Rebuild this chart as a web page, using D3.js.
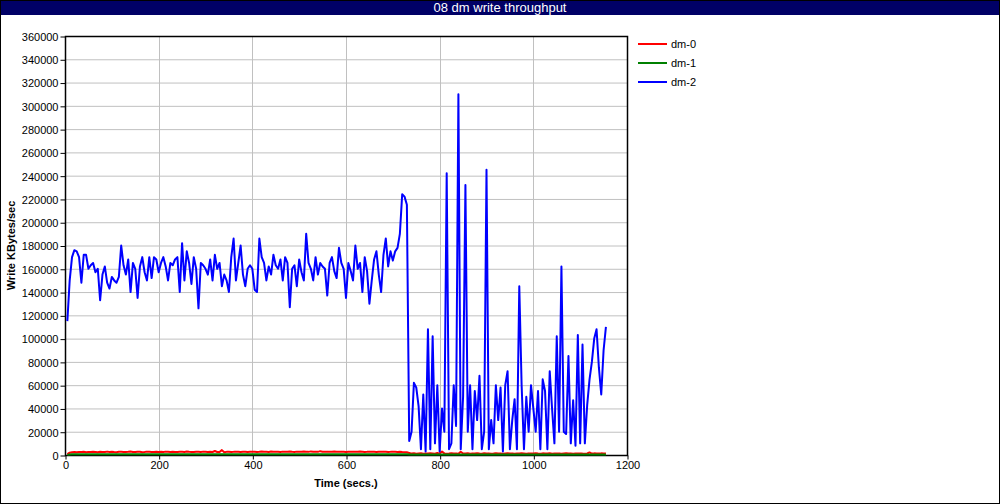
<!DOCTYPE html>
<html><head><meta charset="utf-8">
<script src="https://cdn.jsdelivr.net/npm/d3@7"></script>
<style>body{margin:0;background:#fff}svg{display:block}</style>
</head><body>
<svg id="chart" width="1000" height="504"></svg>
<script>
const title = "08 dm write throughput";
const seriesNames = ["dm-0", "dm-1", "dm-2"];
const seriesColors = ["#ff0000", "#008000", "#0000ff"];
const xTicks = [0, 200, 400, 600, 800, 1000, 1200];
const yTicks = [0,20000,40000,60000,80000,100000,120000,140000,160000,180000,200000,220000,240000,260000,280000,300000,320000,340000,360000];

const dm0 = [
800,2000,2400,2500,2300,2600,2500,2700,2400,2600,
2500,2800,2600,2400,2700,2600,2500,2900,2600,2700,
2500,2400,2800,2700,2600,2500,2700,3000,2600,2500,
2800,2700,2400,2600,2900,2700,2500,2600,2800,2600,
2700,2500,2900,2800,2600,2700,2500,2600,2800,2700,
2600,3000,2700,2500,2600,2800,2700,2600,2900,2700,
2500,2800,2600,3400,2600,2500,4200,2300,2700,2800,
2600,2700,2900,2800,2600,2700,2800,2500,2700,2900,
2800,2600,2700,3000,2800,2700,2600,3000,2800,2700,
2800,2600,2900,2700,2800,3000,2700,2600,2900,2800,
2700,3000,2800,2700,3100,2800,2900,2700,3300,2800,
2700,2900,2800,2700,3000,2800,2700,2900,2800,2600,
2800,2700,2900,2800,2700,3000,2800,2600,2700,2900,
2800,2700,2600,2800,2700,2900,2800,2600,2700,2900,
2800,2600,2700,2500,2400,2300,
1800,1200,1500,1000,1300,1600,1100,1400,1200,1500,
1300,1100,1800,1200,3000,1400,1100,1300,1600,1200,
1400,1100,2800,1300,1200,1500,1100,1400,1200,1600,
1300,1100,1500,1200,1400,1100,1300,1600,1200,1400,
1100,1300,1500,1200,1400,1100,1300,1200,1500,1300,
1100,1400,1200,1300,1600,1200,1100,1400,1300,1200,
1500,1100,1300,1200,1400,1100,1300,1500,1200,1400,
1100,1300,1200,1400,1200,1100,1300,2200,1200,1400,
1300,1200,1400,1300,1200];

const dm1 = [
100,500,600,700,700,650,700,750,700,700,
700,650,700,700,750,700,700,700,650,700,
700,750,700,700,700,650,700,700,750,700,
700,700,650,700,700,750,700,700,700,650,
700,700,750,700,700,700,650,700,700,750,
700,700,700,650,700,700,750,700,700,700,
650,700,700,750,700,700,700,650,700,700,
750,700,700,700,650,700,700,750,700,700,
700,650,700,700,750,700,700,700,650,700,
700,750,700,700,700,650,700,700,750,700,
700,700,650,700,700,750,700,700,700,650,
700,700,750,700,700,700,650,700,700,750,
700,700,700,650,700,700,750,700,700,700,
650,700,700,750,700,700,700,650,700,700,
750,700,700,700,650,600,
400,500,450,500,500,450,500,500,450,500,
500,450,500,500,450,500,500,450,500,500,
450,500,500,450,500,500,450,500,500,450,
500,500,450,500,500,450,500,500,450,500,
500,450,500,500,450,500,500,450,500,500,
450,500,500,450,500,500,450,500,500,450,
500,500,450,500,500,450,500,500,450,500,
500,450,500,500,450,500,500,450,500,500,
450,500,500,450,500];

const dm2 = [
115000,150000,170000,176000,175000,170000,148000,172000,172000,160000,
163000,165000,157000,160000,133000,155000,162000,148000,143000,153000,
150000,148000,153000,180000,163000,155000,168000,140000,165000,160000,
135000,162000,170000,157000,150000,170000,152000,170000,168000,157000,
165000,170000,162000,150000,165000,163000,168000,170000,140000,182000,
150000,175000,165000,147000,170000,160000,126000,165000,163000,160000,
155000,168000,150000,172000,160000,165000,145000,155000,150000,140000,
170000,186000,150000,165000,180000,155000,145000,160000,163000,160000,
142000,140000,186000,170000,165000,150000,162000,155000,172000,163000,
160000,168000,150000,170000,165000,127000,160000,163000,145000,168000,
157000,150000,190000,165000,160000,150000,170000,155000,165000,162000,
160000,137000,165000,170000,158000,152000,178000,165000,160000,135000,
165000,158000,150000,180000,160000,165000,140000,170000,158000,130000,
150000,168000,175000,155000,140000,172000,186000,162000,175000,167000,
175000,178000,190000,224000,222000,215000,
12000,20000,62000,58000,42000,5000,52000,3000,108000,5000,
102000,10000,60000,3000,40000,20000,242000,5000,10000,60000,
25000,310000,5000,50000,232000,20000,60000,5000,55000,30000,
68000,5000,20000,245000,5000,30000,10000,60000,30000,58000,
3000,60000,72000,5000,30000,48000,5000,145000,60000,5000,
50000,20000,60000,40000,20000,55000,5000,65000,55000,5000,
72000,40000,10000,102000,20000,162000,20000,18000,85000,10000,
47000,8000,103000,10000,95000,10000,43000,65000,80000,100000,
108000,75000,52000,90000,110000];

const sampleStart = 5, sampleStep = 5;

const svg = d3.select("#chart");
const W = 1000, H = 504;
const L = 65, R = 627, T = 36, B = 455;
const x = d3.scaleLinear().domain([0, 1200]).range([L, R]);
const y = d3.scaleLinear().domain([0, 360000]).range([B, T]);
const font = "'Liberation Sans', Arial, Helvetica, sans-serif";

svg.append("rect").attr("x",0).attr("y",0).attr("width",W).attr("height",H).attr("fill","#fff");

// title bar
svg.append("rect").attr("x",0).attr("y",0).attr("width",W).attr("height",15).attr("fill","#000066");
svg.append("text").attr("x",W/2).attr("y",12).attr("text-anchor","middle")
  .attr("fill","#fff").attr("font-family","'Liberation Sans Narrow', 'Arial Narrow', sans-serif")
  .attr("font-size",13).text(title);

// grid
const g = svg.append("g");
g.selectAll("line.hg").data(yTicks.filter(v=>v>0 && v<360000)).join("line")
  .attr("x1",L).attr("x2",R).attr("y1",d=>y(d)+0.5).attr("y2",d=>y(d)+0.5)
  .attr("stroke","#c0c0c0").attr("stroke-width",1);
g.selectAll("line.vg").data(xTicks.filter(v=>v>0 && v<1200)).join("line")
  .attr("y1",T).attr("y2",B).attr("x1",d=>Math.round(x(d))+0.5).attr("x2",d=>Math.round(x(d))+0.5)
  .attr("stroke","#c0c0c0").attr("stroke-width",1);

// axes
const yAxis = d3.axisLeft(y).tickValues(yTicks).tickSize(5).tickFormat(d3.format("d"));
const xAxis = d3.axisBottom(x).tickValues(xTicks).tickSize(4).tickFormat(d3.format("d"));
const ya = svg.append("g").attr("transform",`translate(${L+0.5},0.5)`).call(yAxis);
const xa = svg.append("g").attr("transform",`translate(0.5,${B+0.5})`).call(xAxis);
[ya, xa].forEach(a => {
  a.select(".domain").remove();
  a.selectAll("line").attr("stroke","#000");
  a.selectAll("text").attr("font-family",font).attr("font-size",11).attr("fill","#000");
});
ya.selectAll("text").attr("dy","0.35em").attr("x",-7);
xa.selectAll("text").attr("y",6);

// frame
svg.append("rect").attr("x",L+0.5).attr("y",T+0.5).attr("width",R-L).attr("height",B-T)
  .attr("fill","none").attr("stroke","#000").attr("stroke-width",1.5);

// lines
const all = [dm0, dm1, dm2];
const line = d3.line().x((d,i)=>x(sampleStart + i*sampleStep)).y(d=>y(d));
const clip = svg.append("clipPath").attr("id","c").append("rect")
  .attr("x",L).attr("y",T).attr("width",R-L).attr("height",B-T+1);
svg.append("g").attr("clip-path","url(#c)").selectAll("path").data(all).join("path")
  .attr("d",line).attr("fill","none").attr("stroke",(d,i)=>seriesColors[i])
  .attr("stroke-width",2).attr("stroke-linejoin","round");

// axis titles
svg.append("text").attr("x",(L+R)/2).attr("y",487).attr("text-anchor","middle")
  .attr("font-family",font).attr("font-size",11).attr("font-weight","bold").text("Time (secs.)");
svg.append("text").attr("transform",`translate(15,${(T+B)/2}) rotate(-90)`).attr("text-anchor","middle")
  .attr("font-family",font).attr("font-size",11).attr("font-weight","bold").text("Write KBytes/sec");

// legend
const lg = svg.append("g").selectAll("g").data(seriesNames).join("g")
  .attr("transform",(d,i)=>`translate(638,${44 + i*19})`);
lg.append("line").attr("x1",0).attr("x2",29).attr("y1",0).attr("y2",0)
  .attr("stroke",(d,i)=>seriesColors[i]).attr("stroke-width",2);
lg.append("text").attr("x",33).attr("y",4).attr("font-family",font).attr("font-size",11).text(d=>d);

// outer border
svg.append("rect").attr("x",0.5).attr("y",0.5).attr("width",W-1).attr("height",H-1)
  .attr("fill","none").attr("stroke","#000").attr("stroke-width",1);
</script>
</body></html>
